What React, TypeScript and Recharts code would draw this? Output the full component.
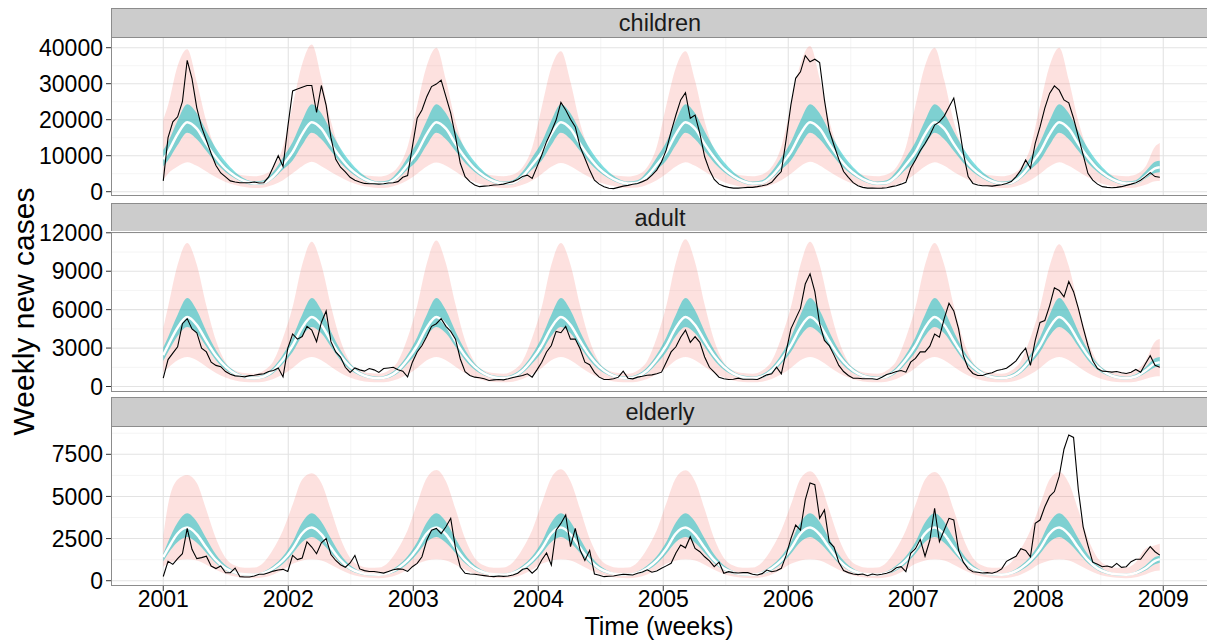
import { ComposedChart, Area, Line, XAxis, YAxis, CartesianGrid } from 'recharts';

const FONT = '"Liberation Sans", Arial, Helvetica, sans-serif';
const WEEKS_PER_YEAR = 52.18;
const LAST_WEEK = 416;
const PANEL_LEFT = 111;
const STRIP_H = 28.7;
const CHART_PAD = 16;

const X_DOMAIN = [2000.582, 2009.35];
const YEAR_TICKS = [2001, 2002, 2003, 2004, 2005, 2006, 2007, 2008, 2009];
const HALF_YEARS = [2001.5, 2002.5, 2003.5, 2004.5, 2005.5, 2006.5, 2007.5, 2008.5];

// observed weekly cases, one value every 2 weeks (26 per year, last one is the final week)
const childrenObserved = [
  3000, 15000, 19400, 20800, 25000, 36500, 31400, 23300, 18000, 14300, 10600, 7300, 5200, 4100, 3000, 2700, 2500, 2500, 2500, 2700, 2400, 2500, 4100, 7000, 10000, 7000,
  18000, 28000, 28500, 29000, 29500, 29500, 22000, 29500, 24000, 15000, 9000, 6800, 5500, 4000, 3200, 2700, 2300, 2200, 2200, 2100, 2200, 2400, 2500, 2800, 4000, 4500,
  12500, 20400, 22700, 26400, 29200, 29900, 31000, 26400, 21800, 15300, 7900, 4200, 2800, 1850, 1400, 1550, 1650, 1850, 1950, 2100, 2500, 2800, 3400, 4200, 4600, 3700,
  6900, 10200, 13900, 16700, 19900, 24800, 22700, 20100, 18000, 12500, 9300, 6000, 3200, 2100, 1400, 950, 850, 1200, 1550, 1750, 2050, 2300, 2800, 3400, 4600, 6000,
  8300, 11600, 16700, 21300, 25500, 27500, 20400, 21300, 16200, 9700, 6000, 3400, 2100, 1550, 1200, 1000, 1000, 1100, 1200, 1200, 1400, 1650, 1950, 2600, 4200, 5600,
  14400, 24100, 31500, 33300, 37800, 36100, 36800, 35900, 25500, 17100, 12900, 9000, 5600, 4000, 2500, 1650, 1200, 1000, 1000, 950, 1000, 1100, 1400, 1650, 2100, 2600,
  6500, 8800, 11400, 13400, 15700, 18500, 19400, 21000, 23500, 26000, 19000, 10700, 4200, 2300, 1850, 1650, 1650, 1550, 1750, 1950, 2300, 2800, 4200, 6000, 8800, 6500,
  13400, 18000, 23200, 27300, 29400, 28200, 25500, 24700, 20400, 15300, 10200, 5100, 3200, 2100, 1400, 1200, 1100, 1200, 1400, 1750, 2100, 2500, 3200, 4200, 5300, 4200,
  4000,
];

const adultObserved = [
  650, 2100, 2600, 3100, 4900, 5300, 4500, 4200, 3000, 2700, 1900, 1650, 1550, 1170, 950, 830, 800, 750, 850, 880, 950, 1000, 1170, 1250, 1450, 750,
  3000, 4100, 3700, 3900, 4700, 4400, 3500, 5000, 5900, 3500, 2700, 2300, 1500, 1100, 1450, 1300, 1200, 1400, 1300, 1100, 1400, 1450, 1500, 1300, 1200, 750,
  1900, 2700, 3200, 3900, 4700, 4900, 5300, 4700, 4300, 3700, 2150, 1150, 860, 730, 680, 600, 470, 520, 550, 520, 600, 700, 780, 860, 990, 730,
  1300, 1900, 2700, 3200, 4300, 4200, 4700, 3700, 3700, 2950, 1900, 1700, 1100, 730, 550, 550, 600, 730, 1200, 650, 600, 730, 800, 880, 910, 990,
  1120, 1900, 2700, 3100, 3850, 4400, 3450, 3900, 3450, 2300, 1500, 1120, 730, 600, 550, 570, 650, 570, 570, 570, 550, 730, 910, 990, 1500, 990,
  2700, 4500, 5300, 6100, 8000, 8800, 7400, 4900, 3600, 3200, 2450, 1650, 1170, 860, 650, 650, 600, 600, 600, 550, 730, 940, 1040, 1170, 1250, 1120,
  1900, 2200, 2700, 2700, 3150, 4100, 3850, 5300, 6500, 5900, 4500, 2400, 1430, 1020, 860, 860, 990, 1070, 1250, 1330, 1430, 1700, 2000, 2550, 3000, 1650,
  3600, 5000, 5150, 6300, 7700, 7500, 7000, 8200, 7400, 6100, 4600, 3200, 2000, 1400, 1200, 1170, 1120, 1170, 1070, 1020, 1120, 1330, 1120, 1770, 2400, 1650,
  1500,
];

const elderlyObserved = [
  250, 1150, 970, 1310, 1600, 3100, 1860, 1310, 1370, 1450, 870, 720, 870, 475, 475, 750, 240, 220, 220, 280, 380, 380, 475, 570, 635, 675,
  550, 1500, 1250, 1350, 2300, 2000, 1600, 2250, 2500, 1550, 1200, 950, 800, 1050, 1500, 700, 600, 550, 550, 500, 450, 550, 650, 700, 680, 550,
  830, 1030, 1420, 2400, 3000, 3100, 2800, 3200, 3700, 1920, 800, 440, 400, 380, 340, 300, 260, 240, 280, 260, 280, 340, 440, 675, 735, 450,
  700, 1230, 1650, 930, 3000, 3400, 3900, 2020, 3110, 1820, 1200, 1800, 400, 320, 240, 260, 280, 340, 380, 360, 340, 440, 520, 650, 500, 580,
  735, 880, 1030, 1650, 2120, 1950, 2610, 1920, 1720, 1420, 1180, 830, 1100, 440, 535, 480, 460, 480, 480, 380, 340, 420, 635, 535, 595, 735,
  1500, 2500, 3300, 3000, 4800, 5800, 5700, 3700, 4200, 2300, 2000, 1100, 600, 480, 400, 360, 400, 300, 400, 340, 380, 440, 550, 770, 830, 535,
  1620, 1900, 2450, 1450, 2400, 4300, 2310, 3010, 3700, 3600, 1800, 1100, 700, 535, 500, 460, 480, 440, 535, 700, 1150, 1300, 1450, 1900, 1800, 1420,
  3400, 3600, 4390, 5000, 5290, 6200, 7800, 8650, 8500, 5380, 3200, 2100, 1100, 970, 830, 870, 790, 1030, 790, 830, 1130, 1270, 1270, 1660, 2020, 1720,
  1520,
];

// model bands: first week, then every 4 weeks from week 2 (13 per year), then the final week
const childrenOuterHigh = [
  20000,
  24000, 35000, 39600, 30500, 19500, 11500, 7500, 5200, 4500, 4300, 4800, 6800, 12500,
  24000, 35500, 40900, 31500, 19500, 11500, 7500, 5200, 4400, 4200, 4800, 6900, 12500,
  24000, 35000, 40000, 31000, 19500, 11500, 7600, 5200, 4500, 4300, 4800, 6800, 12300,
  23500, 34500, 39000, 30500, 19000, 11300, 7400, 5100, 4400, 4200, 4700, 6800, 12500,
  24000, 34500, 39000, 30800, 19500, 11500, 7500, 5200, 4500, 4300, 4800, 6900, 12500,
  24000, 35500, 40500, 31500, 19800, 11600, 7600, 5200, 4500, 4300, 4800, 6800, 12400,
  24000, 35000, 40000, 31000, 19500, 11500, 7500, 5200, 4500, 4300, 4800, 6800, 12300,
  24000, 35000, 40000, 31000, 19600, 11500, 7500, 5200, 4500, 4300, 4800, 6900, 12500,
  13500,
];
const childrenOuterLow = [
  3300,
  5000, 7000, 8200, 7200, 5600, 4000, 2700, 1850, 1300, 1050, 1200, 1900, 3200,
  5100, 7100, 8300, 7100, 5500, 4000, 2700, 1800, 1300, 1000, 1200, 1900, 3200,
  5000, 7000, 8100, 7200, 5600, 3900, 2700, 1850, 1300, 1050, 1200, 1900, 3100,
  4900, 6900, 8000, 7100, 5500, 4000, 2600, 1850, 1300, 1050, 1150, 1900, 3200,
  5000, 7000, 8200, 7200, 5600, 4000, 2700, 1850, 1300, 1050, 1200, 1900, 3200,
  5000, 7100, 8300, 7300, 5600, 4000, 2700, 1850, 1300, 1050, 1200, 1900, 3200,
  5000, 7000, 8200, 7200, 5500, 4000, 2700, 1850, 1300, 1050, 1200, 1900, 3200,
  5000, 7000, 8200, 7200, 5600, 4000, 2700, 1850, 1300, 1050, 1200, 1900, 2900,
  3000,
];
const childrenInnerHigh = [
  11600,
  13800, 19800, 24300, 21800, 16800, 12100, 8300, 5500, 3600, 2800, 3200, 5600, 9500,
  13800, 19800, 24300, 21800, 16800, 12100, 8300, 5500, 3600, 2800, 3200, 5600, 9500,
  13800, 19800, 24300, 21800, 16800, 12100, 8300, 5500, 3600, 2800, 3200, 5600, 9500,
  13800, 19800, 24300, 21800, 16800, 12100, 8300, 5500, 3600, 2800, 3200, 5600, 9500,
  13800, 19800, 24300, 21800, 16800, 12100, 8300, 5500, 3600, 2800, 3200, 5600, 9500,
  13800, 19800, 24300, 21800, 16800, 12100, 8300, 5500, 3600, 2800, 3200, 5600, 9500,
  13800, 19800, 24300, 21800, 16800, 12100, 8300, 5500, 3600, 2800, 3200, 5600, 9500,
  13800, 19800, 24300, 21800, 16800, 12100, 8300, 5500, 3600, 2800, 3200, 5600, 8300,
  8600,
];
const childrenMedian = [
  9000,
  11000, 16000, 19300, 17500, 13300, 9500, 6400, 4300, 2900, 2300, 2500, 4300, 7500,
  11000, 16000, 19300, 17500, 13300, 9500, 6400, 4300, 2900, 2300, 2500, 4300, 7500,
  11000, 16000, 19300, 17500, 13300, 9500, 6400, 4300, 2900, 2300, 2500, 4300, 7500,
  11000, 16000, 19300, 17500, 13300, 9500, 6400, 4300, 2900, 2300, 2500, 4300, 7500,
  11000, 16000, 19300, 17500, 13300, 9500, 6400, 4300, 2900, 2300, 2500, 4300, 7500,
  11000, 16000, 19300, 17500, 13300, 9500, 6400, 4300, 2900, 2300, 2500, 4300, 7500,
  11000, 16000, 19300, 17500, 13300, 9500, 6400, 4300, 2900, 2300, 2500, 4300, 7500,
  11000, 16000, 19300, 17500, 13300, 9500, 6400, 4300, 2900, 2300, 2500, 4300, 6500,
  6800,
];
const childrenInnerLow = [
  7100,
  8700, 13000, 16400, 14600, 11300, 8000, 5500, 3700, 2450, 1900, 2100, 3700, 6200,
  8700, 13000, 16400, 14600, 11300, 8000, 5500, 3700, 2450, 1900, 2100, 3700, 6200,
  8700, 13000, 16400, 14600, 11300, 8000, 5500, 3700, 2450, 1900, 2100, 3700, 6200,
  8700, 13000, 16400, 14600, 11300, 8000, 5500, 3700, 2450, 1900, 2100, 3700, 6200,
  8700, 13000, 16400, 14600, 11300, 8000, 5500, 3700, 2450, 1900, 2100, 3700, 6200,
  8700, 13000, 16400, 14600, 11300, 8000, 5500, 3700, 2450, 1900, 2100, 3700, 6200,
  8700, 13000, 16400, 14600, 11300, 8000, 5500, 3700, 2450, 1900, 2100, 3700, 6200,
  8700, 13000, 16400, 14600, 11300, 8000, 5500, 3700, 2450, 1900, 2100, 3700, 5200,
  5400,
];

const adultOuterHigh = [
  4550,
  6200, 9500, 11200, 9500, 6300, 3600, 1900, 1250, 1050, 1000, 1250, 2000, 3800,
  6200, 9500, 11300, 9500, 6300, 3600, 1900, 1250, 1050, 1000, 1250, 2000, 3800,
  6300, 9600, 11400, 9600, 6400, 3600, 1900, 1250, 1050, 1000, 1250, 2000, 3800,
  6200, 9500, 11200, 9500, 6300, 3600, 1900, 1250, 1050, 1000, 1250, 2000, 3800,
  6300, 9700, 11500, 9700, 6400, 3600, 1900, 1250, 1050, 1000, 1250, 2000, 3800,
  6200, 9500, 11300, 9500, 6300, 3600, 1900, 1250, 1050, 1000, 1250, 2000, 3800,
  6200, 9500, 11200, 9500, 6300, 3600, 1900, 1250, 1050, 1000, 1250, 2000, 3800,
  6200, 9400, 11100, 9400, 6300, 3600, 1900, 1250, 1050, 1000, 1250, 2000, 3500,
  3700,
];
const adultOuterLow = [
  1120,
  1450, 2050, 2300, 2050, 1550, 1050, 700, 470, 360, 330, 380, 580, 950,
  1450, 2050, 2300, 2050, 1550, 1050, 700, 470, 360, 330, 380, 580, 950,
  1450, 2050, 2300, 2050, 1550, 1050, 700, 470, 360, 330, 380, 580, 950,
  1450, 2050, 2300, 2050, 1550, 1050, 700, 470, 360, 330, 380, 580, 950,
  1450, 2050, 2300, 2050, 1550, 1050, 700, 470, 360, 330, 380, 580, 950,
  1450, 2050, 2300, 2050, 1550, 1050, 700, 470, 360, 330, 380, 580, 950,
  1450, 2050, 2300, 2050, 1550, 1050, 700, 470, 360, 330, 380, 580, 950,
  1450, 2050, 2300, 2050, 1550, 1050, 700, 470, 360, 330, 380, 580, 780,
  800,
];
const adultInnerHigh = [
  3050,
  3850, 5600, 6900, 5950, 4300, 2850, 1800, 1180, 850, 760, 950, 1500, 2500,
  3850, 5600, 6900, 5950, 4300, 2850, 1800, 1180, 850, 760, 950, 1500, 2500,
  3850, 5600, 6900, 5950, 4300, 2850, 1800, 1180, 850, 760, 950, 1500, 2500,
  3850, 5600, 6900, 5950, 4300, 2850, 1800, 1180, 850, 760, 950, 1500, 2500,
  3850, 5600, 6900, 5950, 4300, 2850, 1800, 1180, 850, 760, 950, 1500, 2500,
  3850, 5600, 6900, 5950, 4300, 2850, 1800, 1180, 850, 760, 950, 1500, 2500,
  3850, 5600, 6900, 5950, 4300, 2850, 1800, 1180, 850, 760, 950, 1500, 2500,
  3850, 5600, 6900, 5950, 4300, 2850, 1800, 1180, 850, 760, 950, 1500, 2200,
  2300,
];
const adultMedian = [
  2450,
  3200, 4600, 5420, 4800, 3550, 2400, 1550, 1000, 730, 650, 780, 1250, 2100,
  3200, 4600, 5420, 4800, 3550, 2400, 1550, 1000, 730, 650, 780, 1250, 2100,
  3200, 4600, 5420, 4800, 3550, 2400, 1550, 1000, 730, 650, 780, 1250, 2100,
  3200, 4600, 5420, 4800, 3550, 2400, 1550, 1000, 730, 650, 780, 1250, 2100,
  3200, 4600, 5420, 4800, 3550, 2400, 1550, 1000, 730, 650, 780, 1250, 2100,
  3200, 4600, 5420, 4800, 3550, 2400, 1550, 1000, 730, 650, 780, 1250, 2100,
  3200, 4600, 5420, 4800, 3550, 2400, 1550, 1000, 730, 650, 780, 1250, 2100,
  3200, 4600, 5420, 4800, 3550, 2400, 1550, 1000, 730, 650, 780, 1250, 1800,
  1900,
];
const adultInnerLow = [
  2000,
  2700, 3950, 4650, 4150, 3100, 2050, 1300, 850, 620, 550, 660, 1050, 1800,
  2700, 3950, 4650, 4150, 3100, 2050, 1300, 850, 620, 550, 660, 1050, 1800,
  2700, 3950, 4650, 4150, 3100, 2050, 1300, 850, 620, 550, 660, 1050, 1800,
  2700, 3950, 4650, 4150, 3100, 2050, 1300, 850, 620, 550, 660, 1050, 1800,
  2700, 3950, 4650, 4150, 3100, 2050, 1300, 850, 620, 550, 660, 1050, 1800,
  2700, 3950, 4650, 4150, 3100, 2050, 1300, 850, 620, 550, 660, 1050, 1800,
  2700, 3950, 4650, 4150, 3100, 2050, 1300, 850, 620, 550, 660, 1050, 1800,
  2700, 3950, 4650, 4150, 3100, 2050, 1300, 850, 620, 550, 660, 1050, 1500,
  1600,
];

const elderlyOuterHigh = [
  2650,
  4500, 6000, 6270, 5800, 4200, 2500, 1350, 900, 770, 780, 1100, 1900, 3000,
  4500, 6000, 6370, 5800, 4200, 2500, 1350, 900, 770, 780, 1100, 1900, 3000,
  4600, 6100, 6570, 5900, 4250, 2500, 1350, 900, 770, 780, 1100, 1900, 3000,
  4600, 6100, 6610, 5900, 4250, 2500, 1350, 900, 770, 780, 1100, 1900, 3000,
  4600, 6100, 6550, 5900, 4250, 2500, 1350, 900, 770, 780, 1100, 1900, 3000,
  4500, 6050, 6500, 5850, 4200, 2500, 1350, 900, 770, 780, 1100, 1900, 3000,
  4500, 6000, 6450, 5800, 4200, 2500, 1350, 900, 770, 780, 1100, 1900, 3000,
  4500, 6000, 6450, 5800, 4200, 2500, 1350, 900, 770, 780, 1100, 1900, 2100,
  2200,
];
const elderlyOuterLow = [
  830,
  1000, 1200, 1270, 1200, 950, 650, 400, 250, 170, 150, 200, 370, 650,
  1000, 1200, 1270, 1200, 950, 650, 400, 250, 170, 150, 200, 370, 650,
  1000, 1200, 1270, 1200, 950, 650, 400, 250, 170, 150, 200, 370, 650,
  1000, 1200, 1270, 1200, 950, 650, 400, 250, 170, 150, 200, 370, 650,
  1000, 1200, 1270, 1200, 950, 650, 400, 250, 170, 150, 200, 370, 650,
  1000, 1200, 1270, 1200, 950, 650, 400, 250, 170, 150, 200, 370, 650,
  1000, 1200, 1270, 1200, 950, 650, 400, 250, 170, 150, 200, 370, 650,
  1000, 1200, 1270, 1200, 950, 650, 400, 250, 170, 150, 200, 370, 570,
  600,
];
const elderlyInnerHigh = [
  1600,
  2300, 3450, 4000, 3500, 2500, 1550, 920, 580, 430, 420, 550, 900, 1450,
  2300, 3450, 4000, 3500, 2500, 1550, 920, 580, 430, 420, 550, 900, 1450,
  2300, 3450, 4000, 3500, 2500, 1550, 920, 580, 430, 420, 550, 900, 1450,
  2300, 3450, 4000, 3500, 2500, 1550, 920, 580, 430, 420, 550, 900, 1450,
  2300, 3450, 4000, 3500, 2500, 1550, 920, 580, 430, 420, 550, 900, 1450,
  2300, 3450, 4000, 3500, 2500, 1550, 920, 580, 430, 420, 550, 900, 1450,
  2300, 3450, 4000, 3500, 2500, 1550, 920, 580, 430, 420, 550, 900, 1450,
  2300, 3450, 4000, 3500, 2500, 1550, 920, 580, 430, 420, 550, 900, 1400,
  1500,
];
const elderlyMedian = [
  1400,
  1900, 2800, 3150, 2750, 1950, 1220, 730, 490, 380, 360, 460, 740, 1200,
  1900, 2800, 3150, 2750, 1950, 1220, 730, 490, 380, 360, 460, 740, 1200,
  1900, 2800, 3150, 2750, 1950, 1220, 730, 490, 380, 360, 460, 740, 1200,
  1900, 2800, 3150, 2750, 1950, 1220, 730, 490, 380, 360, 460, 740, 1200,
  1900, 2800, 3150, 2750, 1950, 1220, 730, 490, 380, 360, 460, 740, 1200,
  1900, 2800, 3150, 2750, 1950, 1220, 730, 490, 380, 360, 460, 740, 1200,
  1900, 2800, 3150, 2750, 1950, 1220, 730, 490, 380, 360, 460, 740, 1200,
  1900, 2800, 3150, 2750, 1950, 1220, 730, 490, 380, 360, 460, 740, 1180,
  1280,
];
const elderlyInnerLow = [
  1150,
  1600, 2300, 2600, 2250, 1640, 1030, 620, 400, 310, 300, 380, 600, 1000,
  1600, 2300, 2600, 2250, 1640, 1030, 620, 400, 310, 300, 380, 600, 1000,
  1600, 2300, 2600, 2250, 1640, 1030, 620, 400, 310, 300, 380, 600, 1000,
  1600, 2300, 2600, 2250, 1640, 1030, 620, 400, 310, 300, 380, 600, 1000,
  1600, 2300, 2600, 2250, 1640, 1030, 620, 400, 310, 300, 380, 600, 1000,
  1600, 2300, 2600, 2250, 1640, 1030, 620, 400, 310, 300, 380, 600, 1000,
  1600, 2300, 2600, 2250, 1640, 1030, 620, 400, 310, 300, 380, 600, 1000,
  1600, 2300, 2600, 2250, 1640, 1030, 620, 400, 310, 300, 380, 600, 980,
  1070,
];

// which band value belongs to a given week (-1 when the bands have no value there)
function bandIndex(week: number) {
  if (week === 0) return 0;
  if (week === LAST_WEEK) return 105;
  if ((week - 2) % 4 === 0) return 1 + (week - 2) / 4;
  return -1;
}

function buildRows(observed: number[], outerLow: number[], outerHigh: number[], innerLow: number[], innerHigh: number[], median: number[]) {
  return observed.map((value, i) => {
    const week = i * 2;
    const row: Record<string, unknown> = { t: 2001 + week / WEEKS_PER_YEAR, observed: value };
    const j = bandIndex(week);
    if (j >= 0) {
      row.outer = [outerLow[j], outerHigh[j]];
      row.inner = [innerLow[j], innerHigh[j]];
      row.median = median[j];
    }
    return row;
  });
}

const facets = [
  {
    label: 'children',
    top: 37,
    height: 159,
    domain: [-1194, 42972],
    ticks: [0, 10000, 20000, 30000, 40000],
    minor: [5000, 15000, 25000, 35000],
    rows: buildRows(childrenObserved, childrenOuterLow, childrenOuterHigh, childrenInnerLow, childrenInnerHigh, childrenMedian),
  },
  {
    label: 'adult',
    top: 231.5,
    height: 160,
    domain: [-429, 12062],
    ticks: [0, 3000, 6000, 9000, 12000],
    minor: [1500, 4500, 7500, 10500],
    rows: buildRows(adultObserved, adultOuterLow, adultOuterHigh, adultInnerLow, adultInnerHigh, adultMedian),
  },
  {
    label: 'elderly',
    top: 426,
    height: 160,
    domain: [-314, 9179],
    ticks: [0, 2500, 5000, 7500],
    minor: [1250, 3750, 6250, 8750],
    rows: buildRows(elderlyObserved, elderlyOuterLow, elderlyOuterHigh, elderlyInnerLow, elderlyInnerHigh, elderlyMedian),
  },
];

type FacetDef = (typeof facets)[number];

function Facet({ facet, showX }: { facet: FacetDef; showX: boolean }) {
  const bottomSpace = showX ? 40 : 10;
  return (
    <>
      <div
        style={{
          position: 'absolute',
          left: PANEL_LEFT,
          top: facet.top - STRIP_H,
          width: 1110,
          height: STRIP_H,
          boxSizing: 'border-box',
          background: '#CCCCCC',
          border: '1px solid #8C8C8C',
          borderBottom: 'none',
        }}
      >
        <div style={{ width: 1096, textAlign: 'center', lineHeight: `${STRIP_H}px`, fontSize: 23.5, color: '#1A1A1A' }}>
          {facet.label}
        </div>
      </div>
      <div style={{ position: 'absolute', left: 0, top: facet.top - CHART_PAD }}>
        <ComposedChart
          width={1207}
          height={facet.height + CHART_PAD + bottomSpace}
          data={facet.rows}
          margin={{ top: CHART_PAD, right: 0, bottom: showX ? 0 : 10, left: 0 }}
        >
          <CartesianGrid stroke="#F1F1F1" strokeWidth={0.8} horizontalValues={facet.minor} verticalValues={HALF_YEARS} />
          <CartesianGrid stroke="#E3E3E3" strokeWidth={1.1} horizontalValues={facet.ticks} verticalValues={YEAR_TICKS} />
          <XAxis
            dataKey="t"
            type="number"
            domain={X_DOMAIN}
            allowDataOverflow
            ticks={YEAR_TICKS}
            interval={0}
            hide={!showX}
            height={40}
            tickSize={5}
            tickMargin={0}
            axisLine={false}
            tickLine={{ stroke: '#333333' }}
            tick={{ fontSize: 23, fill: '#000000' }}
          />
          <YAxis
            type="number"
            domain={facet.domain}
            allowDataOverflow
            ticks={facet.ticks}
            interval={0}
            width={PANEL_LEFT}
            tickSize={5}
            tickMargin={3}
            axisLine={false}
            tickLine={{ stroke: '#333333' }}
            tick={{ fontSize: 23, fill: '#000000' }}
          />
          <Area
            dataKey="outer"
            type="monotone"
            stroke="none"
            fill="#F8766D"
            fillOpacity={0.22}
            connectNulls
            dot={false}
            activeDot={false}
            isAnimationActive={false}
          />
          <Area
            dataKey="inner"
            type="monotone"
            stroke="none"
            fill="#00BFC4"
            fillOpacity={0.5}
            connectNulls
            dot={false}
            activeDot={false}
            isAnimationActive={false}
          />
          <Line
            dataKey="median"
            type="monotone"
            stroke="#FFFFFF"
            strokeWidth={2.5}
            connectNulls
            dot={false}
            activeDot={false}
            isAnimationActive={false}
          />
          <Line
            dataKey="observed"
            type="linear"
            stroke="#000000"
            strokeWidth={1.1}
            dot={false}
            activeDot={false}
            isAnimationActive={false}
          />
        </ComposedChart>
      </div>
      <div
        style={{
          position: 'absolute',
          left: PANEL_LEFT,
          top: facet.top,
          width: 1110,
          height: facet.height,
          boxSizing: 'border-box',
          border: '1px solid #8C8C8C',
          pointerEvents: 'none',
        }}
      />
    </>
  );
}

export default function App() {
  return (
    <div
      style={{
        position: 'absolute',
        left: 0,
        top: 0,
        width: 1207,
        height: 641,
        overflow: 'hidden',
        background: '#FFFFFF',
        fontFamily: FONT,
      }}
    >
      {facets.map((f, i) => (
        <Facet key={f.label} facet={f} showX={i === facets.length - 1} />
      ))}
      <svg width={1207} height={641} style={{ position: 'absolute', left: 0, top: 0, pointerEvents: 'none' }}>
        <text
          x={34}
          y={311.5}
          transform="rotate(-90 34 311.5)"
          textAnchor="middle"
          fontSize={30}
          fill="#000000"
          fontFamily={FONT}
        >
          Weekly new cases
        </text>
        <text x={659} y={635} textAnchor="middle" fontSize={25} fill="#000000" fontFamily={FONT}>
          Time (weeks)
        </text>
      </svg>
    </div>
  );
}
